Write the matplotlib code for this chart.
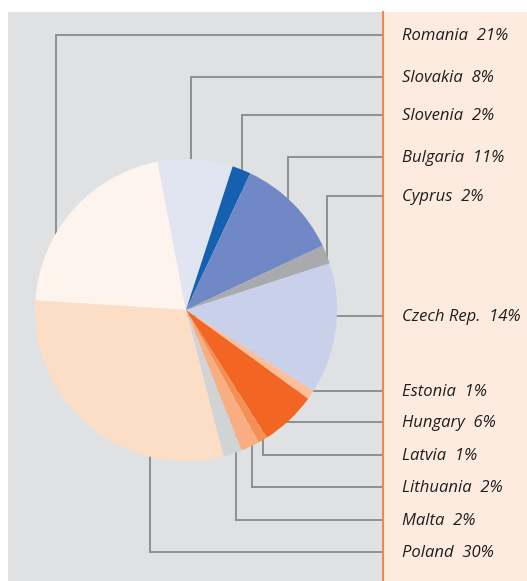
import matplotlib.pyplot as plt
from matplotlib.patches import Rectangle

# data
countries = ['Romania', 'Slovakia', 'Slovenia', 'Bulgaria', 'Cyprus', 'Czech Rep.',
             'Estonia', 'Hungary', 'Latvia', 'Lithuania', 'Malta', 'Poland']
shares = [21, 8, 2, 11, 2, 14, 1, 6, 1, 2, 2, 30]
colors = ['#FDF4EE', '#E1E5F2', '#1560B0', '#7089C6', '#A9AAAD', '#C9D1EA',
          '#FDBF9A', '#F26522', '#F58F55', '#F9AE82', '#D2D3D5', '#FCDEC7']

# layout (pixel coords, y measured from top)
W, H = 527, 581
label_y = [35, 77, 115, 157, 196, 316, 391, 422, 455, 487, 520, 552]
anchor_x = [56, 191, 242, 288, 327, None, None, None, 263, 252, 236, 150]
cx, cy, r = 186, 310, 151
split_x = 383

fig = plt.figure(figsize=(W / 100, H / 100), dpi=100)
ax = fig.add_axes([0, 0, 1, 1])

ax.add_patch(Rectangle((8, 0), split_x - 8, H - 12, facecolor='#E0E1E3', lw=0, zorder=0))
ax.add_patch(Rectangle((split_x, 0), W - split_x, H - 12, facecolor='#FEEBE0', lw=0, zorder=0))
ax.plot([split_x, split_x], [0, H - 12], color='#F47C3C', lw=1.3, zorder=4)

wedges, _ = ax.pie(shares, colors=colors, startangle=176.4, counterclock=False,
                   center=(cx, H - cy), radius=r, frame=True,
                   wedgeprops=dict(linewidth=0, zorder=3))
for w in wedges:
    w.set_zorder(3)

for name, share, ly, axx in zip(countries, shares, label_y, anchor_x):
    y = H - ly
    if axx is None:
        ax.plot([cx, split_x], [y, y], color='#8E8F91', lw=1.4, zorder=2,
                solid_capstyle='butt')
    else:
        ax.plot([axx, axx, split_x], [H - cy, y, y], color='#8E8F91', lw=1.4,
                zorder=2, solid_joinstyle='miter', solid_capstyle='butt')
    ax.text(402, y - 1, f'{name}  {share}%', fontsize=12, style='italic',
            family='Open Sans', color='#1E1E1E', va='center', ha='left', zorder=5)

ax.set_xlim(0, W)
ax.set_ylim(0, H)
ax.set_aspect('auto')
ax.axis('off')

fig.savefig('out.png', dpi=100)
